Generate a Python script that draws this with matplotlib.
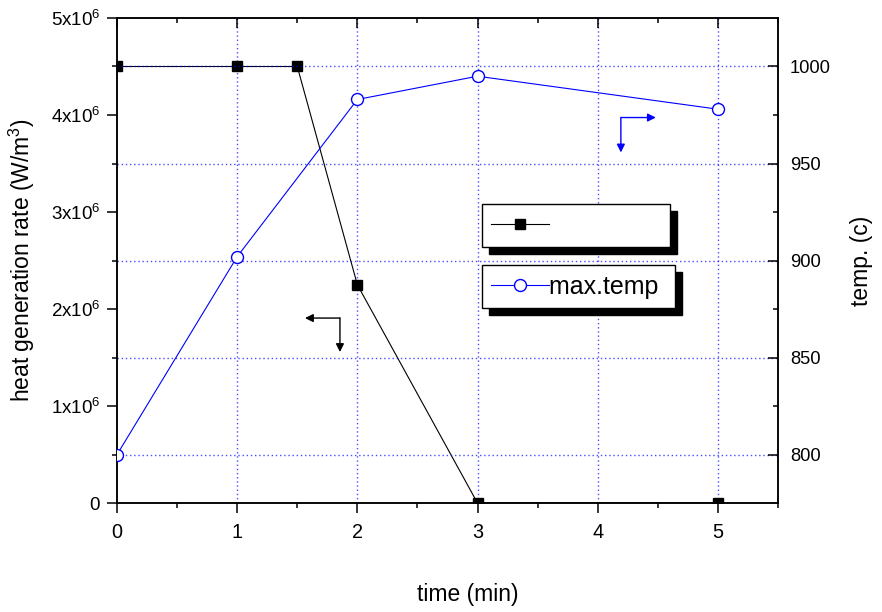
import numpy as np
import matplotlib
matplotlib.use('Agg')
import matplotlib.pyplot as plt
from matplotlib.ticker import MultipleLocator, FixedLocator, FuncFormatter

plt.rcParams['font.family'] = ['Liberation Sans', 'DejaVu Sans']
plt.rcParams['mathtext.fontset'] = 'custom'
plt.rcParams['mathtext.rm'] = 'Liberation Sans'
plt.rcParams['mathtext.it'] = 'Liberation Sans:italic'

# heat generation rate (left axis)
time_heat = [0, 1, 1.5, 2, 3, 5]
heat_rate = [4.5e6, 4.5e6, 4.5e6, 2.25e6, 0, 0]

# max temperature (right axis)
time_temp = [0, 1, 2, 3, 5]
max_temp = [800, 902, 983, 995, 978]

fig = plt.figure(figsize=(8.82, 6.12), dpi=100)
ax = fig.add_axes([0.1327, 0.178, 0.7493, 0.7926])
ax2 = ax.twinx()

l1, = ax.plot(time_heat, heat_rate, color='black', lw=0.8, marker='s', ms=7.2,
              mfc='black', mec='black', zorder=3)
l2, = ax2.plot(time_temp, max_temp, color='blue', lw=0.8, marker='o', ms=8.6,
               mfc='white', mec='blue', mew=1.0, zorder=3)

ax.set_xlim(0, 5.5)
ax.set_ylim(0, 5e6)
ax2.set_ylim(775, 1025)

ax.xaxis.set_major_locator(MultipleLocator(1))
ax.xaxis.set_minor_locator(MultipleLocator(0.5))
ax.yaxis.set_major_locator(MultipleLocator(1e6))
ax.yaxis.set_minor_locator(MultipleLocator(0.5e6))
ax2.yaxis.set_major_locator(FixedLocator([800, 850, 900, 950, 1000]))
ax2.yaxis.set_minor_locator(FixedLocator([825, 875, 925, 975]))


def sci_fmt(v, pos):
    if v == 0:
        return '0'
    return r'$\mathregular{%dx10^6}$' % round(v / 1e6)


ax.yaxis.set_major_formatter(FuncFormatter(sci_fmt))

# dotted grid
grid_kw = dict(color='blue', lw=1.0, ls=(0, (1, 2)), alpha=0.7)
for xv in [1, 2, 3, 4, 5]:
    ax.axvline(xv, zorder=1, **grid_kw)
ax2.yaxis.grid(True, which='major', zorder=1, **grid_kw)
ax2.set_axisbelow(True)

for a in (ax, ax2):
    for s in a.spines.values():
        s.set_linewidth(1.1)

ax.tick_params(axis='y', which='major', direction='out', length=7.2, width=1.1,
               labelsize=13.5, pad=5)
ax.tick_params(axis='y', which='minor', direction='out', length=3.6, width=1.1)
ax.tick_params(axis='x', which='major', direction='out', length=7.2, width=1.1,
               labelsize=14.3, pad=7, top=False)
ax.tick_params(axis='x', which='minor', direction='out', length=3.6, width=1.1, top=False)

ax2.xaxis.set_visible(True)
ax2.tick_params(axis='x', which='both', bottom=False, top=True, labelbottom=False,
                labeltop=False, direction='in', width=1.1)
ax2.tick_params(axis='x', which='major', length=7.2)
ax2.tick_params(axis='x', which='minor', length=3.6)
ax2.tick_params(axis='y', which='major', direction='in', length=7.2, width=1.1,
                labelsize=13.2, pad=8.6)
ax2.tick_params(axis='y', which='minor', direction='in', length=3.6, width=1.1)

ax.set_xlabel('time (min)', fontsize=16.5, labelpad=30)
ax.xaxis.label.set_x(0.53)
ax.set_ylabel(r'heat generation rate (W/m$\mathregular{^3}$)', fontsize=16.5, labelpad=10)
ax2.set_ylabel('temp. (c)', fontsize=16.5, labelpad=14)

# axis pointers
ax.annotate('', xy=(1.564, 1.907e6), xytext=(1.855, 1.907e6),
            arrowprops=dict(arrowstyle='-|>', color='black', lw=1.0,
                            mutation_scale=12, shrinkA=0, shrinkB=0))
ax.annotate('', xy=(1.855, 1.557e6), xytext=(1.855, 1.907e6),
            arrowprops=dict(arrowstyle='-|>', color='black', lw=1.0,
                            mutation_scale=12, shrinkA=0, shrinkB=0))
ax2.annotate('', xy=(4.484, 973.7), xytext=(4.193, 973.7),
             arrowprops=dict(arrowstyle='-|>', color='blue', lw=1.0,
                             mutation_scale=12, shrinkA=0, shrinkB=0))
ax2.annotate('', xy=(4.193, 955.7), xytext=(4.193, 973.7),
             arrowprops=dict(arrowstyle='-|>', color='blue', lw=1.0,
                             mutation_scale=12, shrinkA=0, shrinkB=0))

# two separate boxed legends with solid drop shadows
shadow = {'ox': 5, 'oy': -5, 'facecolor': 'black', 'edgecolor': 'black', 'alpha': 1}
leg_kw = dict(loc='upper left', fontsize=18, frameon=True, fancybox=False,
              borderpad=0.38, handlelength=2.3, handletextpad=0.0,
              borderaxespad=0, edgecolor='black', framealpha=1, shadow=shadow)
leg1 = ax2.legend([l1], [' ' * 16], bbox_to_anchor=(0.552, 0.6165), **leg_kw)
leg1.get_frame().set_linewidth(1.0)
ax2.add_artist(leg1)
leg2 = ax2.legend([l2], ['max.temp '], bbox_to_anchor=(0.552, 0.4907), **leg_kw)
leg2.get_frame().set_linewidth(1.0)

fig.savefig('out.png', dpi=100)
